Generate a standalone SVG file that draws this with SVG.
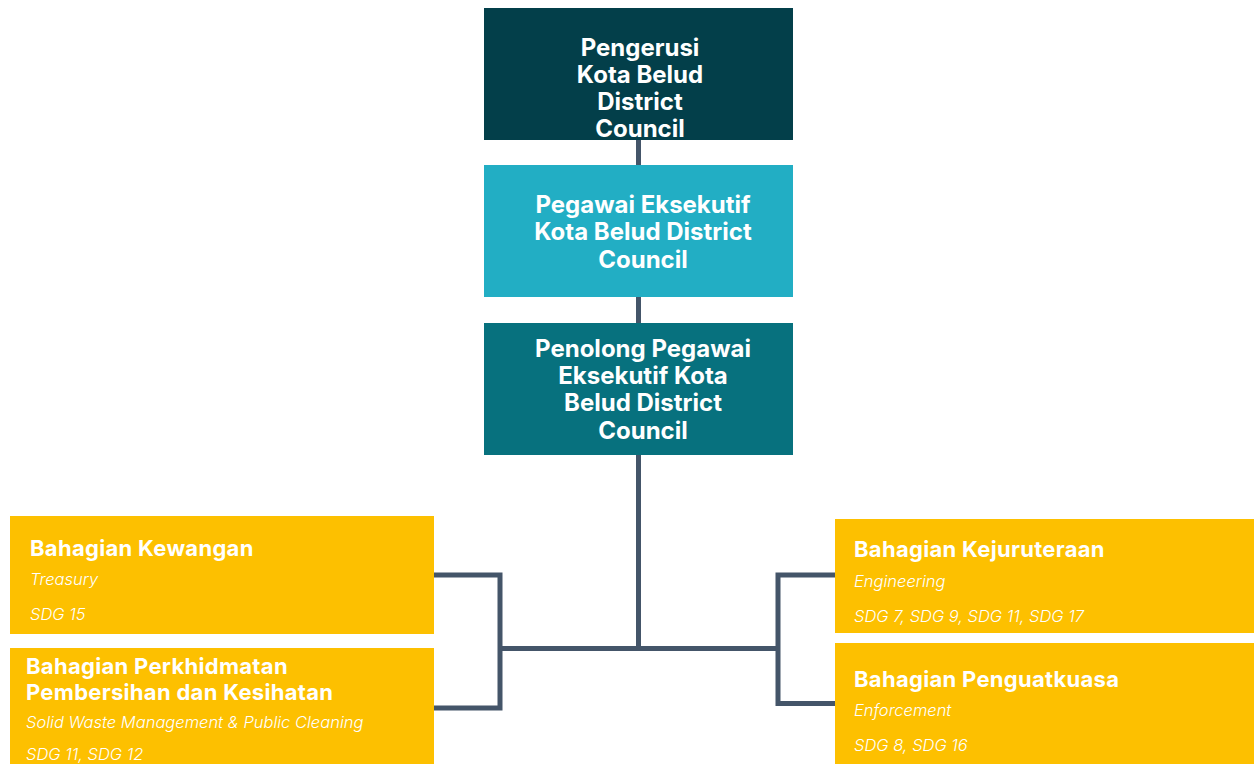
<svg xmlns="http://www.w3.org/2000/svg" width="1254" height="764" viewBox="0 0 1254 764">
<style>
.h{font-family:Inter,"Noto Sans",sans-serif;font-weight:700;fill:#fff;font-size:24px;text-anchor:middle}
.t{font-family:Inter,"Noto Sans",sans-serif;font-weight:700;fill:#fff;font-size:22px;letter-spacing:0.3px}
.s{font-family:Inter,"Noto Sans",sans-serif;font-weight:300;font-style:italic;fill:#fff;font-size:16.5px}
.c{stroke:#445569;stroke-width:5;fill:none}
.y{fill:#fdc000}
</style>
<rect width="1254" height="764" fill="#fff"/>
<g id="connectors">
<path class="c" d="M638.5 140V165M638.5 297V323M638.5 455V648.5M500 648.5H778"/>
<path class="c" d="M434 575H500V708H433M835 575H778V703.5H835"/>
</g>
<g id="n1">
<rect x="484" y="8" width="309" height="132" fill="#033f4a"/>
<text class="h" x="640" y="56">Pengerusi</text>
<text class="h" x="640" y="83">Kota Belud</text>
<text class="h" x="640" y="110">District</text>
<text class="h" x="640" y="137">Council</text>
</g>
<g id="n2">
<rect x="484" y="165" width="309" height="132" fill="#22aec4"/>
<text class="h" x="643" y="213">Pegawai Eksekutif</text>
<text class="h" x="643" y="240">Kota Belud District</text>
<text class="h" x="643" y="268">Council</text>
</g>
<g id="n3">
<rect x="484" y="323" width="309" height="132" fill="#07717e"/>
<text class="h" x="643" y="357">Penolong Pegawai</text>
<text class="h" x="643" y="384">Eksekutif Kota</text>
<text class="h" x="643" y="411">Belud District</text>
<text class="h" x="643" y="439">Council</text>
</g>
<g id="n4">
<rect class="y" x="10" y="516" width="424" height="118"/>
<text class="t" x="30" y="556">Bahagian Kewangan</text>
<text class="s" x="30" y="585">Treasury</text>
<text class="s" x="30" y="620">SDG 15</text>
</g>
<g id="n5">
<rect class="y" x="10" y="648" width="424" height="116"/>
<text class="t" x="26" y="674">Bahagian Perkhidmatan</text>
<text class="t" x="26" y="700">Pembersihan dan Kesihatan</text>
<text class="s" x="26" y="728">Solid Waste Management &amp; Public Cleaning</text>
<text class="s" x="26" y="760">SDG 11, SDG 12</text>
</g>
<g id="n6">
<rect class="y" x="835" y="519" width="419" height="114"/>
<text class="t" x="854" y="557">Bahagian Kejuruteraan</text>
<text class="s" x="854" y="587">Engineering</text>
<text class="s" x="854" y="622">SDG 7, SDG 9, SDG 11, SDG 17</text>
</g>
<g id="n7">
<rect class="y" x="835" y="643" width="419" height="121"/>
<text class="t" x="854" y="687">Bahagian Penguatkuasa</text>
<text class="s" x="854" y="716">Enforcement</text>
<text class="s" x="854" y="751">SDG 8, SDG 16</text>
</g>
</svg>
